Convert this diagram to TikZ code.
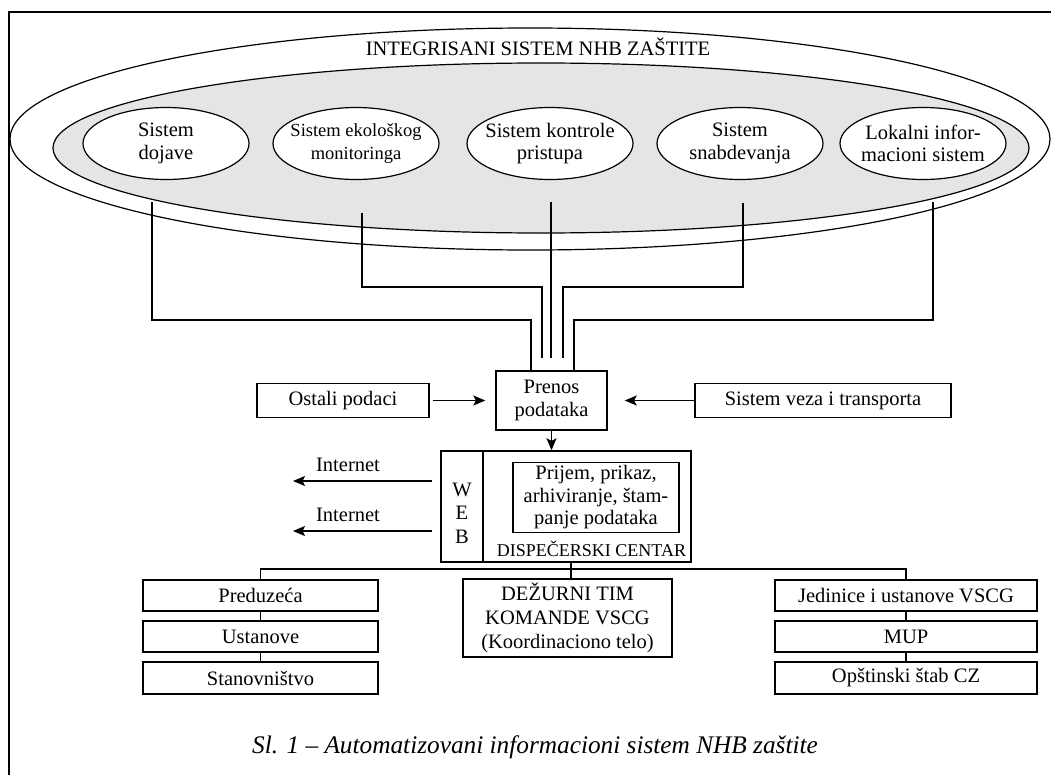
\documentclass[tikz,border=0pt]{standalone}
\usepackage{fontspec}
\setmainfont{Liberation Serif}
\usetikzlibrary{shapes.geometric,arrows.meta,calc}
\begin{document}
\begin{tikzpicture}[x=1bp,y=-1bp, line width=1.2bp,
  every node/.style={font=\fontsize{20.5bp}{22.5bp}\selectfont, inner sep=0pt},
  sub/.style={draw, ellipse, fill=white, minimum width=166bp, minimum height=72bp},
  box/.style={draw, rectangle, fill=white, line width=1.4bp},
  lbl/.style={align=center},
  arr/.style={-{Stealth[length=12bp,width=10bp,inset=2.5bp]}, line width=1.4bp}]
\useasboundingbox (0,0) rectangle (1051,775);
% frame
\draw (9,775) -- (9,12) -- (1051,12);
% big ellipses
\draw (530,139) ellipse [x radius=520bp, y radius=111bp];
\draw[fill=gray!20] (541,148) ellipse [x radius=488bp, y radius=85bp];
\node (title) at (538,47) {INTEGRISANI SISTEM NHB ZAŠTITE};
% subsystems
\node[sub] (s1) at (166,143.5) {};
\node[sub] (s2) at (356,143.5) {};
\node[sub] (s3) at (550,143.5) {};
\node[sub] (s4) at (740,143.5) {};
\node[sub] (s5) at (923,143.5) {};
\node[lbl] (t1) at (s1) {Sistem\\dojave};
\node[lbl, font=\fontsize{18.5bp}{22.5bp}\selectfont] (t2) at (s2) {Sistem ekološkog\\monitoringa};
\node[lbl] (t3) at (s3) {Sistem kontrole\\pristupa};
\node[lbl] (t4) at (s4) {Sistem\\snabdevanja};
\node[lbl] (t5) at (s5) {Lokalni infor-\\macioni sistem};
% middle row
\node[box, minimum width=111bp, minimum height=59bp, align=center] (prenos) at (551.5,400.5) {Prenos\\podataka};
\node[box, minimum width=172bp, minimum height=34bp] (ostali) at (343,400.5) {Ostali podaci};
\node[box, minimum width=256bp, minimum height=34bp] (veza) at (823,400.5) {Sistem veza i transporta};
% link starts and ends
\coordinate (a1) at (152,202);
\coordinate (a2) at (362,213);
\coordinate (a3) at (551,202);
\coordinate (a4) at (743,203);
\coordinate (a5) at (933,202);
\coordinate (e2) at (542,358);
\coordinate (e3) at (551,358);
\coordinate (e4) at (563,358);
\draw (a1) |- (531,320) -- (prenos.north -| 531,0);
\draw (a2) |- (e2 |- 0,287) -- (e2);
\draw (a3) -- (e3);
\draw (a4) |- (e4 |- 0,287) -- (e4);
\draw (a5) |- (574,320) -- (prenos.north -| 574,0);
% arrows into prenos
\coordinate (o1) at ($(ostali.east)+(3,0)$);
\coordinate (o2) at ($(prenos.west)+(-10,0)$);
\coordinate (v2) at ($(prenos.east)+(17,0)$);
\draw[arr] (o1) -- (o2);
\draw[arr] (veza.west) -- (v2);
% dispatcher
\node[box, minimum width=250bp, minimum height=111bp] (disp) at (566,506.5) {};
\draw[arr] (prenos.south) -- (prenos.south |- disp.north);
\draw[line width=1.4bp] (483,451) -- (483,562);
\node[lbl, font=\fontsize{20.5bp}{23.5bp}\selectfont] (web) at (462,513) {W\\E\\B};
\node[box, minimum width=166bp, minimum height=70bp, align=center] (prijem) at (596,497.5) {Prijem, prikaz,\\arhiviranje, štam-\\panje podataka};
\node[font=\fontsize{18bp}{20bp}\selectfont] (dc) at (591.5,549) {DISPEČERSKI CENTAR};
% internet
\coordinate (i1) at (432,481);
\coordinate (j1) at (293,481);
\coordinate (i2) at (432,531);
\coordinate (j2) at (293,531);
\draw[arr] (i1) -- (j1);
\draw[arr] (i2) -- (j2);
\node (in1) at (348,465) {Internet};
\node (in2) at (348,515) {Internet};
% bottom
\node[box, minimum width=209bp, minimum height=78bp, align=center, font=\fontsize{20.5bp}{24bp}\selectfont] (dez) at (567.5,618) {DEŽURNI TIM\\KOMANDE VSCG\\(Koordinaciono telo)};
\node[box, minimum width=235bp, minimum height=31bp] (pred) at (260.5,595.5) {Preduzeća};
\node[box, minimum width=235bp, minimum height=31bp] (ust) at (260.5,636.5) {Ustanove};
\node[box, minimum width=235bp, minimum height=32bp] (stan) at (260.5,678) {Stanovništvo};
\node[box, minimum width=262bp, minimum height=31bp] (jed) at (906,595.5) {Jedinice i ustanove VSCG};
\node[box, minimum width=262bp, minimum height=31bp] (mup) at (906,636.5) {MUP};
\node[box, minimum width=262bp, minimum height=32bp] (opst) at (906,678) {Opštinski štab CZ};
\coordinate (bus) at (571,569);
\draw (disp.south -| bus) -- (dez.north -| bus);
\draw (pred.north) -- (pred.north |- bus) -- (jed.north |- bus) -- (jed.north);
\draw (pred.south) -- (ust.north);
\draw (ust.south) -- (stan.north);
\draw (jed.south) -- (mup.north);
\draw (mup.south) -- (opst.north);
% caption
\node[font=\itshape\fontsize{25.3bp}{28bp}\selectfont] (cap) at (535,747) {Sl. 1 – Automatizovani informacioni sistem NHB zaštite};
\end{tikzpicture}
\end{document}
